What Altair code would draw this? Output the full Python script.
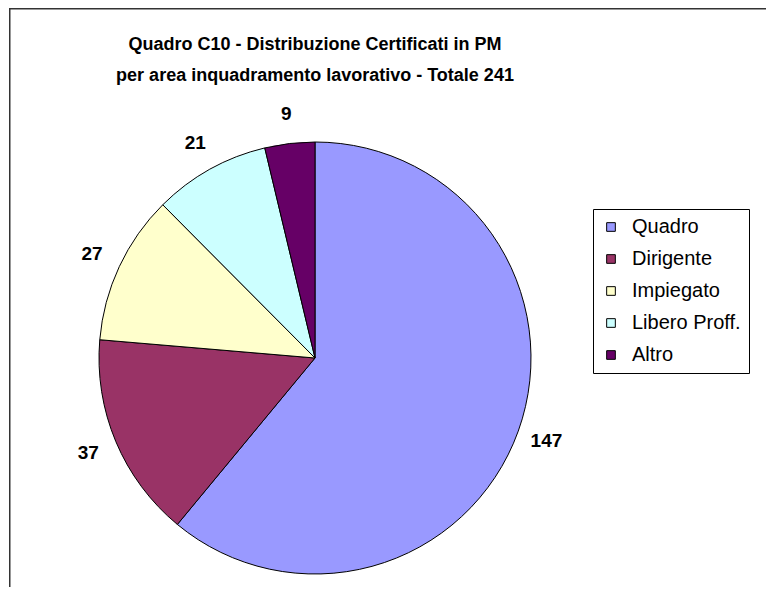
import altair as alt
import pandas as pd

categories = ["Quadro", "Dirigente", "Impiegato", "Libero Proff.", "Altro"]
values = [147, 37, 27, 21, 9]
colors = ["#9999FF", "#993366", "#FFFFCC", "#CCFFFF", "#660066"]
title_lines = ["Quadro C10 - Distribuzione Certificati in PM",
               "per area inquadramento lavorativo  - Totale 241"]

df = pd.DataFrame({"cat": categories, "val": values, "idx": list(range(len(values)))})

W, H = 757, 579
CX, CY = 306, 350

base = alt.Chart(df).encode(
    theta=alt.Theta("val:Q", stack=True),
    order=alt.Order("idx:Q", sort="ascending"),
)

pie = base.mark_arc(outerRadius=216, stroke="black", strokeWidth=1).encode(
    color=alt.Color(
        "cat:N",
        scale=alt.Scale(domain=categories, range=colors),
        sort=categories,
        legend=alt.Legend(
            title=None,
            orient="none",
            legendX=584,
            legendY=201,
            strokeColor="black",
            fillColor="white",
            padding=8,
            symbolType="square",
            symbolSize=75,
            symbolStrokeColor="black",
            symbolStrokeWidth=1,
            symbolOpacity=1,
            labelFont="Liberation Sans",
            labelFontSize=20,
            labelColor="black",
            rowPadding=12,
            labelOffset=11,
        ),
    ),
    x=alt.value(CX),
    y=alt.value(CY),
)

labels = base.mark_text(
    radius=246, font="Liberation Sans", fontSize=19, fontWeight="bold", color="black"
).encode(
    text=alt.Text("val:Q"),
    x=alt.value(CX),
    y=alt.value(CY),
)

frame_df = pd.DataFrame({"k": [0]})
left_line = alt.Chart(frame_df).mark_rule(color="#333333", strokeWidth=1.5).encode(
    x=alt.value(0.75), y=alt.value(0), y2=alt.value(H)
)
top_line = alt.Chart(frame_df).mark_rule(color="#333333", strokeWidth=1.5).encode(
    x=alt.value(0), x2=alt.value(W), y=alt.value(0.75)
)
title = alt.Chart(frame_df).mark_text(
    text=title_lines, font="Liberation Sans", fontSize=18, fontWeight="bold",
    color="black", baseline="top", align="center", lineHeight=31,
).encode(x=alt.value(306), y=alt.value(28))

chart = alt.layer(left_line, top_line, pie, labels, title).properties(
    width=W, height=H,
    autosize=alt.AutoSizeParams(type="none"),
    padding={"left": 1, "top": 0, "right": 0, "bottom": 0},
    background="white",
).configure_view(stroke=None)

chart.save("out.html", embed_options={"renderer": "svg", "actions": False})
